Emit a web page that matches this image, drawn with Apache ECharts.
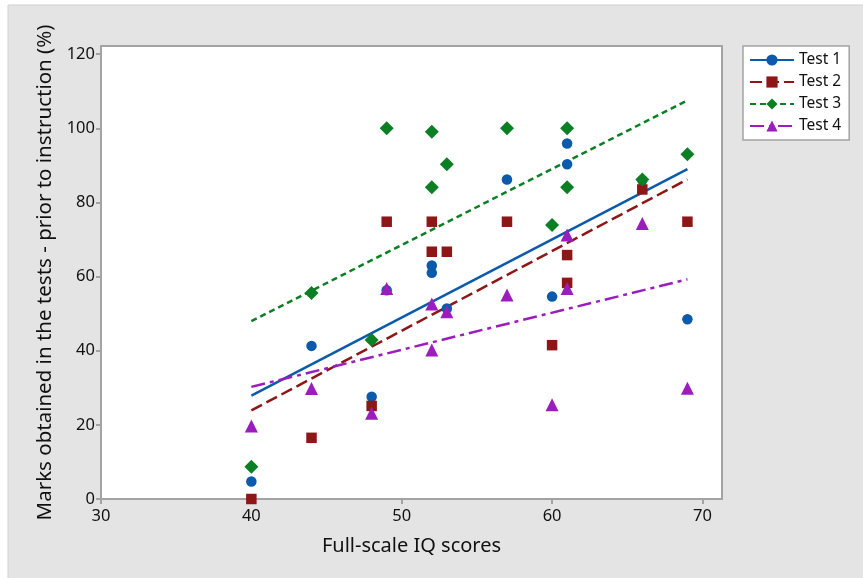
<!DOCTYPE html>
<html>
<head>
<meta charset="utf-8">
<script src="https://cdn.jsdelivr.net/npm/echarts@6/dist/echarts.min.js"></script>
<style>
  html, body { margin: 0; padding: 0; background: #ffffff; }
  #chart { width: 863px; height: 578px; }
</style>
</head>
<body>
<div id="chart"></div>
<script>
// Full-scale IQ score of each pupil
const iqScores = [40, 44, 48, 49, 52, 52, 53, 57, 60, 61, 61, 66, 69];

// Marks (%) per test, same pupil order as iqScores
const test1 = [4.7, 41.3, 27.6, 56.3, 63, 61, 51.4, 86.2, 54.6, 95.9, 90.3, 86, 48.5];
const test2 = [0, 16.5, 25.1, 74.8, 74.8, 66.7, 66.7, 74.8, 41.5, 65.8, 58.3, 83.5, 74.8];
const test3 = [8.7, 55.6, 42.9, 100, 99.1, 84.1, 90.3, 100, 73.9, 100, 84.1, 86.2, 93];
const test4 = [19.7, 29.8, 23.1, 56.8, 52.6, 40.2, 50.5, 55, 25.4, 71.2, 56.8, 74.3, 29.9];

const xTicks = [30, 40, 50, 60, 70];
const yTicks = [0, 20, 40, 60, 80, 100, 120];

const seriesNames = ['Test 1', 'Test 2', 'Test 3', 'Test 4'];
const seriesValues = [test1, test2, test3, test4];
const colors = ['#0b5aab', '#8e1616', '#0b7f24', '#9b1dbd'];
const symbols = ['circle', 'rect', 'diamond', 'triangle'];
const symbolSizes = [10.5, 10.5, 14, 13];
const dashes = ['solid', [12, 5], [6, 4], [14, 5, 4, 5]];

// least-squares fit, drawn across the observed IQ range
function fitLine(xs, ys) {
  const n = xs.length;
  const mx = xs.reduce((a, b) => a + b, 0) / n;
  const my = ys.reduce((a, b) => a + b, 0) / n;
  let sxy = 0, sxx = 0;
  for (let i = 0; i < n; i++) {
    sxy += (xs[i] - mx) * (ys[i] - my);
    sxx += (xs[i] - mx) * (xs[i] - mx);
  }
  const b = sxy / sxx;
  const a = my - b * mx;
  const x0 = Math.min(...xs), x1 = Math.max(...xs);
  return [[x0, a + b * x0], [x1, a + b * x1]];
}

const series = [];
seriesNames.forEach((name, i) => {
  series.push({
    name: name,
    type: 'line',
    data: fitLine(iqScores, seriesValues[i]),
    symbol: symbols[i],
    symbolSize: symbolSizes[i],
    showSymbol: false,
    silent: true,
    z: 2,
    itemStyle: { color: colors[i] },
    lineStyle: { color: colors[i], width: 2.5, type: dashes[i] }
  });
});
seriesNames.forEach((name, i) => {
  series.push({
    name: name,
    type: 'scatter',
    data: iqScores.map((x, k) => [x, seriesValues[i][k]]),
    symbol: symbols[i],
    symbolSize: symbolSizes[i],
    z: 3 + i,
    itemStyle: { color: colors[i], opacity: 1 }
  });
});

const chart = echarts.init(document.getElementById('chart'));
const font = 'Noto Sans, DejaVu Sans, sans-serif';

chart.setOption({
  animation: false,
  backgroundColor: '#ffffff',
  graphic: [{
    type: 'rect',
    z: -10,
    silent: true,
    shape: { x: 8, y: 5, width: 860, height: 580 },
    style: { fill: '#e4e4e4', stroke: '#cfcfcf', lineWidth: 1 }
  }],
  grid: {
    left: 101, top: 46, right: 141, bottom: 79,
    show: true,
    backgroundColor: '#ffffff',
    borderColor: '#a3a3a3',
    borderWidth: 2
  },
  legend: {
    data: seriesNames,
    orient: 'vertical',
    left: 743, top: 46,
    width: 112,
    padding: [6, 8, 6, 6],
    itemWidth: 44,
    itemHeight: 14,
    itemGap: 6,
    backgroundColor: '#ffffff',
    borderColor: '#a3a3a3',
    borderWidth: 1.5,
    borderRadius: 0,
    textStyle: { color: '#111', fontSize: 15.5, fontFamily: font }
  },
  xAxis: {
    type: 'value',
    min: 30, max: 71.3,
    name: 'Full-scale IQ scores',
    nameLocation: 'middle',
    nameGap: 37,
    nameTextStyle: { color: '#111', fontSize: 20, fontFamily: font },
    splitLine: { show: false },
    axisLine: { show: true, lineStyle: { color: '#a3a3a3', width: 2 } },
    axisTick: { show: true, length: 5, customValues: xTicks, lineStyle: { color: '#a3a3a3', width: 2 } },
    axisLabel: { customValues: xTicks, color: '#111', fontSize: 16.5, fontFamily: font, margin: 9 }
  },
  yAxis: {
    type: 'value',
    min: 0, max: 122.2,
    name: 'Marks obtained in the tests - prior to instruction (%)',
    nameLocation: 'middle',
    nameGap: 43,
    nameTextStyle: { color: '#111', fontSize: 20.5, fontFamily: font },
    splitLine: { show: false },
    axisLine: { show: true, lineStyle: { color: '#a3a3a3', width: 2 } },
    axisTick: { show: true, length: 5, customValues: yTicks, lineStyle: { color: '#a3a3a3', width: 2 } },
    axisLabel: { customValues: yTicks, color: '#111', fontSize: 16.5, fontFamily: font, margin: 6 }
  },
  series: series
});
</script>
</body>
</html>
